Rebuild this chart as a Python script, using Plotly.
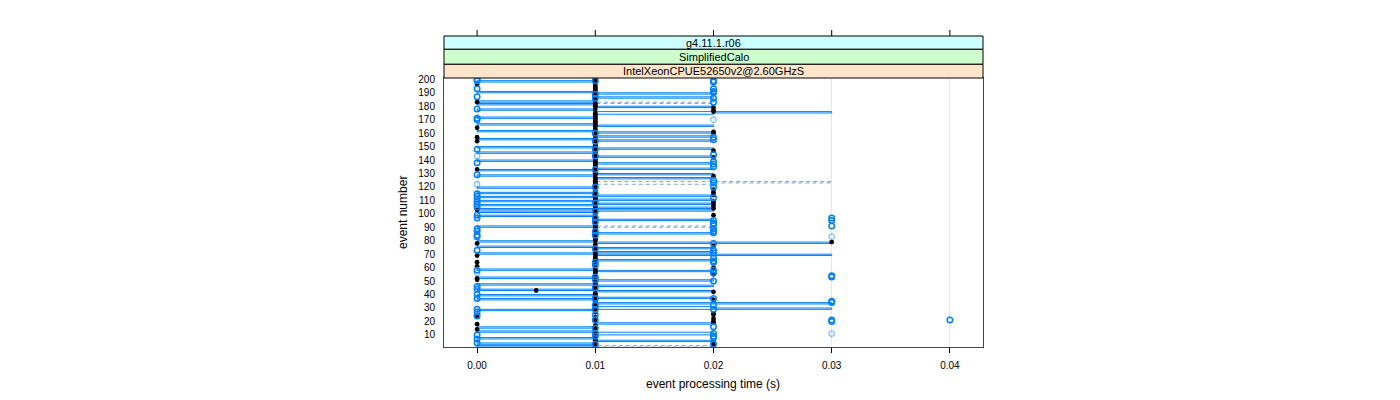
import plotly.graph_objects as go

# ---------------- data ----------------
events = list(range(1, 201))

# step-line series (hundredths of a second), events 1..200
line_cs = [
    1, 0, 1, 0, 1, 2, 1, 0, 1, 1,
    2, 2, 0, 1, 1, 0, 1, 1, 2, 1,
    1, 1, 1, 1, 1, 1, 1, 1, 0, 3,
    2, 1, 1, 3, 1, 1, 0, 2, 1, 0,
    1, 1, 2, 0, 1, 1, 2, 0, 1, 1,
    2, 1, 0, 1, 1, 1, 1, 2, 0, 1,
    1, 1, 1, 1, 1, 2, 1, 1, 1, 3,
    0, 2, 1, 1, 2, 0, 1, 1, 3, 0,
    1, 1, 1, 1, 1, 2, 1, 1, 1, 1,
    0, 1, 1, 1, 1, 2, 1, 1, 0, 1,
    1, 0, 2, 0, 2, 1, 0, 2, 1, 0,
    2, 1, 0, 2, 1, 0, 1, 1, 1, 0,
    1, 1, 1, 1, 1, 1, 2, 1, 0, 2,
    1, 1, 0, 2, 1, 1, 1, 2, 1, 0,
    1, 1, 2, 1, 1, 0, 1, 1, 2, 0,
    1, 1, 1, 1, 2, 0, 1, 2, 1, 1,
    2, 0, 1, 1, 1, 2, 0, 1, 1, 1,
    1, 0, 1, 1, 2, 3, 1, 0, 1, 2,
    1, 0, 1, 0, 1, 1, 2, 1, 1, 2,
    0, 1, 1, 1, 1, 1, 1, 1, 0, 1,
]

# dashed step-line series (hundredths of a second)
dash_cs = [
    1, 2, 1, 1, 1, 1, 1, 1, 1, 1,
    1, 1, 1, 1, 1, 1, 1, 1, 1, 1,
    1, 1, 1, 1, 1, 1, 1, 1, 1, 1,
    1, 1, 1, 1, 1, 1, 1, 1, 1, 1,
    1, 1, 1, 1, 1, 1, 1, 1, 1, 1,
    1, 1, 1, 1, 1, 1, 1, 1, 1, 1,
    1, 1, 1, 1, 1, 1, 1, 1, 1, 1,
    1, 1, 1, 1, 1, 1, 1, 1, 1, 1,
    1, 1, 1, 1, 1, 1, 1, 1, 1, 1,
    2, 1, 1, 1, 1, 1, 1, 1, 1, 1,
    1, 1, 1, 1, 1, 1, 1, 1, 1, 1,
    1, 1, 1, 1, 1, 1, 1, 1, 1, 1,
    1, 1, 2, 3, 1, 1, 1, 1, 1, 1,
    1, 1, 1, 1, 1, 1, 1, 1, 1, 1,
    1, 1, 1, 1, 1, 1, 1, 1, 1, 1,
    1, 1, 1, 1, 1, 1, 1, 1, 1, 1,
    1, 1, 1, 1, 1, 1, 1, 1, 1, 1,
    1, 1, 1, 1, 1, 1, 1, 1, 1, 1,
    1, 1, 2, 1, 1, 1, 1, 1, 1, 1,
    1, 1, 1, 1, 1, 1, 1, 1, 1, 1,
]

# filled black points (hundredths of a second), events 1..200
black_cs = [
    1, 1, 2, 1, 2, 1, 1, 1, 1, 1,
    1, 1, 1, 0, 1, 1, 1, 0, 2, 2,
    1, 2, 1, 0, 2, 2, 1, 1, 1, 1,
    1, 1, 1, 1, 1, 2, 1, 1, 1, 1,
    1, 2, 0.5, 1, 1, 1, 1, 1, 1, 1,
    0, 0, 1, 1, 2, 1, 1, 1, 1, 2,
    0, 1, 1, 0, 1, 1, 1, 1, 0, 1,
    1, 1, 1, 1, 1, 2, 1, 0, 3, 1,
    1, 1, 1, 1, 1, 1, 1, 1, 1, 1,
    1, 1, 1, 1, 1, 1, 1, 1, 2, 1,
    1, 1, 0, 2, 1, 2, 1, 2, 2, 1,
    1, 1, 1, 2, 1, 2, 1, 2, 1, 1,
    1, 1, 1, 1, 1, 1, 1, 2, 1, 1,
    1, 1, 0, 1, 1, 1, 1, 1, 1, 1,
    1, 2, 1, 1, 1, 1, 2, 1, 1, 1,
    1, 1, 1, 0, 1, 1, 0, 1, 1, 2,
    2, 1, 1, 0, 1, 1, 1, 1, 1, 1,
    1, 1, 1, 1, 1, 2, 2, 1, 2, 1,
    1, 1, 0, 1, 1, 1, 1, 1, 1, 1,
    1, 1, 1, 1, 1, 0, 1, 1, 1, 1,
]

# open blue points: event numbers per timing value
blue_at_000 = [200, 199, 193, 187, 178, 171, 170, 148, 138, 129, 115, 113, 111,
               109, 107, 105, 99, 97, 89, 87, 84, 83, 73, 58, 46, 44, 40, 37,
               29, 27, 24, 10, 7, 4]
blue_at_001 = [199, 189, 186, 160, 154, 148, 143, 133, 120, 115, 108, 102, 97,
               94, 87, 84, 74, 64, 62, 53, 51, 45, 37, 32, 29, 25, 21, 15, 11,
               9, 3]
blue_at_002 = [199, 198, 193, 191, 190, 186, 183, 157, 155, 144, 139, 137, 135,
               125, 123, 120, 112, 95, 93, 92, 89, 87, 86, 78, 73, 71, 67, 65,
               64, 58, 56, 50, 37, 32, 29, 16, 11, 9, 8, 3]
blue_at_003 = [97, 95, 91, 54, 53, 35, 34, 21, 20]
blue_at_004 = [21]
faint_at_000 = [143, 122, 56]
faint_at_002 = [170]
faint_at_003 = [83, 11]

x_ticks = [0.00, 0.01, 0.02, 0.03, 0.04]
x_tick_text = ["0.00", "0.01", "0.02", "0.03", "0.04"]
y_ticks = list(range(10, 201, 10))

strip_labels = ["g4.11.1.r06", "SimplifiedCalo", "IntelXeonCPUE52650v2@2.60GHzS"]
strip_colors = ["#ccffff", "#ccffcc", "#ffe5cc"]

x_title = "event processing time (s)"
y_title = "event number"

# ---------------- figure ----------------
BLUE = "#0080ff"
FONT = "Liberation Sans, Arial, sans-serif"

line_t = [v / 100 for v in line_cs]
dash_t = [v / 100 for v in dash_cs]
black_t = [v / 100 for v in black_cs]


def cols(spec):
    xs, ys = [], []
    for t, evs in spec:
        for e in evs:
            xs.append(t)
            ys.append(e)
    return xs, ys


bx, by = cols([(0.00, blue_at_000), (0.01, blue_at_001), (0.02, blue_at_002),
               (0.03, blue_at_003), (0.04, blue_at_004)])
fx, fy = cols([(0.00, faint_at_000), (0.02, faint_at_002), (0.03, faint_at_003)])

fig = go.Figure()
fig.add_trace(go.Scatter(x=dash_t, y=events, mode="lines",
                         line=dict(color="#7fa3d0", width=1, dash="4px,3px", shape="hv"),
                         hoverinfo="skip"))
fig.add_trace(go.Scatter(x=line_t, y=events, mode="lines",
                         line=dict(color=BLUE, width=1.0, shape="hv"),
                         hoverinfo="skip"))
fig.add_trace(go.Scatter(x=black_t, y=events, mode="markers",
                         marker=dict(symbol="circle", size=4.8, color="black")))
fig.add_trace(go.Scatter(x=fx, y=fy, mode="markers",
                         marker=dict(symbol="circle-open", size=5.5,
                                     color="rgba(0,128,255,0.5)", line=dict(width=1.3))))
fig.add_trace(go.Scatter(x=bx, y=by, mode="markers",
                         marker=dict(symbol="circle-open", size=5.5,
                                     color=BLUE, line=dict(width=1.5))))

# page body has an 8px margin, so the figure is laid out 8px up/left of window coords
OFF = 8
L, R, T, B = 444 - OFF, 983 - OFF, 78 - OFF, 347 - OFF
W, H = 1400 - OFF, 400 - OFF
PH = B - T


def py(pix):
    return (B - (pix - OFF)) / PH


def px(pix):
    return ((pix - OFF) - L) / (R - L)


shapes = []
bounds = [36, 49.3, 64.3, 78]
for i, (lab, col) in enumerate(zip(strip_labels, strip_colors)):
    shapes.append(dict(type="rect", xref="paper", yref="paper", x0=0, x1=1,
                       y0=py(bounds[i + 1]), y1=py(bounds[i]),
                       fillcolor=col, line=dict(color="black", width=1), layer="above"))
for xt in x_ticks:
    shapes.append(dict(type="line", xref="x", yref="paper", x0=xt, x1=xt,
                       y0=py(36), y1=py(30), line=dict(color="black", width=1)))

annotations = []
for i, lab in enumerate(strip_labels):
    annotations.append(dict(text=lab, xref="paper", yref="paper", x=0.5,
                            y=(py(bounds[i]) + py(bounds[i + 1])) / 2,
                            xanchor="center", yanchor="middle", showarrow=False,
                            font=dict(family=FONT, size=11, color="black")))
annotations.append(dict(text=x_title, xref="paper", yref="paper", x=px(713), y=py(384),
                        xanchor="center", yanchor="middle", showarrow=False,
                        font=dict(family=FONT, size=12, color="black")))
annotations.append(dict(text=y_title, xref="paper", yref="paper", x=px(403), y=py(213),
                        xanchor="center", yanchor="middle", showarrow=False, textangle=-90,
                        font=dict(family=FONT, size=12, color="black")))

fig.update_layout(
    width=W, height=H, autosize=False,
    margin=dict(l=L, r=W - R, t=T, b=H - B, pad=0),
    paper_bgcolor="white", plot_bgcolor="white",
    showlegend=False,
    shapes=shapes, annotations=annotations,
    font=dict(family=FONT, size=10, color="black"),
)
fig.update_xaxes(range=[-0.0028, 0.0428], tickvals=x_ticks, ticktext=x_tick_text,
                 showgrid=True, gridcolor="#e6e6e6", gridwidth=1, zeroline=False,
                 ticks="outside", ticklen=5, tickcolor="black", ticklabelstandoff=4,
                 showline=True, linecolor="#444", linewidth=1, mirror=True,
                 tickfont=dict(family=FONT, size=10, color="black"))
fig.update_yaxes(range=[1.0, 201.0], tickvals=y_ticks, showgrid=False, zeroline=False,
                 ticks="", ticklabelstandoff=6,
                 showline=True, linecolor="#444", linewidth=1, mirror=True,
                 tickfont=dict(family=FONT, size=10, color="black"))

fig.write_html("out.html")
